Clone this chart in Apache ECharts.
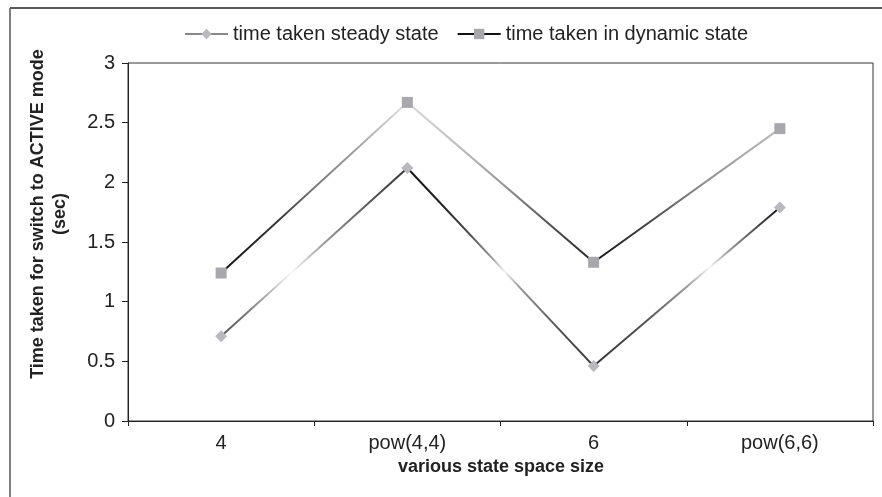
<!DOCTYPE html>
<html>
<head>
<meta charset="utf-8">
<script src="https://cdn.jsdelivr.net/npm/echarts@6/dist/echarts.min.js"></script>
<style>
html,body{margin:0;padding:0;background:#fff;}
#chart{width:882px;height:497px;}
</style>
</head>
<body>
<div id="chart"></div>
<script>
// ---- data ----
const categories = ['4', 'pow(4,4)', '6', 'pow(6,6)'];
const steadyName = 'time taken steady state';
const dynamicName = 'time taken in dynamic state';
const steadyValues = [0.71, 2.12, 0.46, 1.79];
const dynamicValues = [1.24, 2.67, 1.33, 2.45];
const yMin = 0, yMax = 3, yStep = 0.5;

// ---- styles (per-segment gradient strokes, left to right) ----
const steadySegStops = [
  [[0,'#555'],[0.15,'#777'],[0.38,'#fafafa'],[0.55,'#999'],[0.8,'#555'],[1,'#333']],
  [[0,'#111'],[0.2,'#222'],[0.35,'#555'],[0.45,'#999'],[0.52,'#f2f2f2'],[0.6,'#999'],[0.8,'#555'],[1,'#333']],
  [[0,'#333'],[0.3,'#555'],[0.5,'#999'],[0.62,'#f5f5f5'],[0.72,'#999'],[0.88,'#444'],[1,'#111']]
];
const dynamicSegStops = [
  [[0,'#111'],[0.3,'#333'],[0.5,'#777'],[0.7,'#999'],[0.9,'#ccc'],[1,'#ddd']],
  [[0,'#ddd'],[0.3,'#bbb'],[0.5,'#999'],[0.75,'#555'],[1,'#222']],
  [[0,'#111'],[0.3,'#444'],[0.55,'#888'],[0.8,'#aaa'],[1,'#bbb']]
];
const FONT = '"Liberation Sans", Arial, sans-serif';

function segmentSeries(values, stopsList, prefix) {
  const out = [];
  for (let i = 0; i < values.length - 1; i++) {
    const d = values.map((v, j) => (j === i || j === i + 1) ? v : null);
    out.push({
      name: prefix + '_seg' + i,
      type: 'line',
      data: d,
      symbol: 'none',
      connectNulls: false,
      silent: true,
      z: 2,
      lineStyle: {
        width: 2,
        color: {
          type: 'linear', x: 0, y: 0, x2: 1, y2: 0,
          colorStops: stopsList[i].map(s => ({offset: s[0], color: s[1]}))
        }
      }
    });
  }
  return out;
}

const chart = echarts.init(document.getElementById('chart'), null, {renderer: 'canvas'});
const series = [
  // legend-only entries
  {name: steadyName, type: 'line', data: [], symbol: 'diamond', symbolSize: 11,
   itemStyle: {color: '#b9b9bd'}, lineStyle: {color: '#888', width: 2}},
  {name: dynamicName, type: 'line', data: [], symbol: 'rect', symbolSize: 11,
   itemStyle: {color: '#a8a8ac'}, lineStyle: {color: '#111', width: 2}},
  ...segmentSeries(steadyValues, steadySegStops, 'steady'),
  ...segmentSeries(dynamicValues, dynamicSegStops, 'dynamic'),
  // markers
  {name: 'steady_markers', type: 'line', data: steadyValues, symbol: 'diamond', symbolSize: 12,
   showAllSymbol: true, z: 5, lineStyle: {width: 0, opacity: 0},
   itemStyle: {color: '#b9b9bd', borderWidth: 0}},
  {name: 'dynamic_markers', type: 'line', data: dynamicValues, symbol: 'rect', symbolSize: 11,
   showAllSymbol: true, z: 5, lineStyle: {width: 0, opacity: 0},
   itemStyle: {color: '#a8a8ac', borderWidth: 0}}
];

chart.setOption({
  animation: false,
  backgroundColor: '#fff',
  textStyle: {fontFamily: FONT},
  legend: {
    data: [steadyName, dynamicName],
    left: 179, top: 19,
    itemWidth: 43, itemHeight: 13, itemGap: 18,
    textStyle: {fontFamily: FONT, fontSize: 20, color: '#222'}
  },
  grid: {left: 128, top: 63, right: 9, bottom: 76, show: true, borderColor: '#333', borderWidth: 1, containLabel: false},
  xAxis: {
    type: 'category',
    data: categories,
    boundaryGap: true,
    axisLine: {lineStyle: {color: '#222', width: 1}},
    axisTick: {show: true, inside: false, length: 5, alignWithLabel: false, lineStyle: {color: '#222'}},
    axisLabel: {fontFamily: FONT, fontSize: 20, color: '#222', margin: 12},
    splitLine: {show: false}
  },
  yAxis: {
    type: 'value',
    min: yMin, max: yMax, interval: yStep,
    axisLine: {show: true, lineStyle: {color: '#222', width: 1}},
    axisTick: {show: true, inside: false, length: 6, lineStyle: {color: '#222'}},
    axisLabel: {fontFamily: FONT, fontSize: 20, color: '#222', margin: 13},
    splitLine: {show: false}
  },
  graphic: [
    {type: 'line', shape: {x1: 10, y1: 8, x2: 882, y2: 8}, style: {stroke: '#222', lineWidth: 1.5}, silent: true},
    {type: 'line', shape: {x1: 10, y1: 8, x2: 10, y2: 497}, style: {stroke: '#555', lineWidth: 1.5}, silent: true},
    {type: 'text', x: 501, y: 467, silent: true,
     style: {text: 'various state space size', textAlign: 'center', textVerticalAlign: 'middle',
             font: 'bold 18px ' + FONT, fill: '#222'}},
    {type: 'text', x: 49, y: 214, rotation: Math.PI / 2, silent: true,
     style: {text: 'Time taken for switch to ACTIVE mode\n(sec)', textAlign: 'center', textVerticalAlign: 'middle',
             font: 'bold 18px ' + FONT, lineHeight: 22, fill: '#222'}}
  ],
  series: series
});
</script>
</body>
</html>
